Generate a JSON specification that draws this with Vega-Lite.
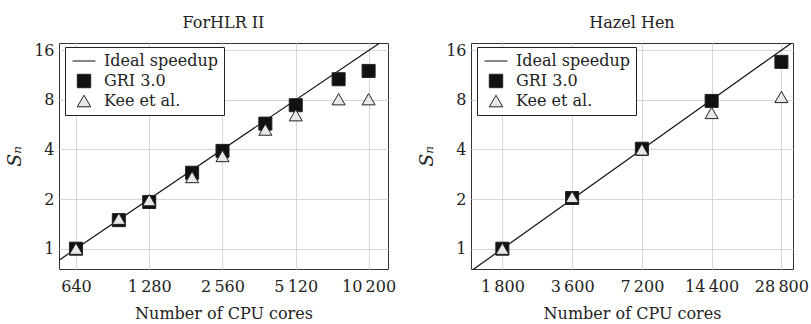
{
  "$schema": "https://vega.github.io/schema/vega-lite/v6.json",
  "padding": {"left": 5, "top": 14, "right": 5, "bottom": 5},
  "spacing": 20,
  "align": "none",
  "datasets": {
    "forhlr": [
      {"series": "GRI 3.0", "cores": 640, "speedup": 1.0},
      {"series": "GRI 3.0", "cores": 960, "speedup": 1.49},
      {"series": "GRI 3.0", "cores": 1280, "speedup": 1.92},
      {"series": "GRI 3.0", "cores": 1920, "speedup": 2.89},
      {"series": "GRI 3.0", "cores": 2560, "speedup": 3.92},
      {"series": "GRI 3.0", "cores": 3840, "speedup": 5.74},
      {"series": "GRI 3.0", "cores": 5120, "speedup": 7.42},
      {"series": "GRI 3.0", "cores": 7680, "speedup": 10.67},
      {"series": "GRI 3.0", "cores": 10200, "speedup": 11.98},
      {"series": "Kee et al.", "cores": 640, "speedup": 1.0},
      {"series": "Kee et al.", "cores": 960, "speedup": 1.52},
      {"series": "Kee et al.", "cores": 1280, "speedup": 1.97},
      {"series": "Kee et al.", "cores": 1920, "speedup": 2.72},
      {"series": "Kee et al.", "cores": 2560, "speedup": 3.65},
      {"series": "Kee et al.", "cores": 3840, "speedup": 5.28},
      {"series": "Kee et al.", "cores": 5120, "speedup": 6.45},
      {"series": "Kee et al.", "cores": 7680, "speedup": 8.07},
      {"series": "Kee et al.", "cores": 10200, "speedup": 8.07}
    ],
    "forhlrIdeal": [
      {"cores": 320, "speedup": 0.5},
      {"cores": 20480, "speedup": 32}
    ],
    "hazel": [
      {"series": "GRI 3.0", "cores": 1800, "speedup": 1.0},
      {"series": "GRI 3.0", "cores": 3600, "speedup": 2.03},
      {"series": "GRI 3.0", "cores": 7200, "speedup": 4.04},
      {"series": "GRI 3.0", "cores": 14400, "speedup": 7.88},
      {"series": "GRI 3.0", "cores": 28800, "speedup": 13.6},
      {"series": "Kee et al.", "cores": 1800, "speedup": 1.0},
      {"series": "Kee et al.", "cores": 3600, "speedup": 2.06},
      {"series": "Kee et al.", "cores": 7200, "speedup": 4.0},
      {"series": "Kee et al.", "cores": 14400, "speedup": 6.66},
      {"series": "Kee et al.", "cores": 28800, "speedup": 8.33}
    ],
    "hazelIdeal": [
      {"cores": 900, "speedup": 0.5},
      {"cores": 57600, "speedup": 32}
    ]
  },
  "config": {
    "font": "DejaVu Serif",
    "view": {"stroke": "#333", "strokeWidth": 1},
    "axis": {
      "grid": true, "gridColor": "#d6d6d6", "gridWidth": 1,
      "domain": false, "ticks": false,
      "labelFont": "DejaVu Serif", "labelFontSize": 16, "labelColor": "#222",
      "titleFont": "DejaVu Serif", "titleFontSize": 16, "titleFontWeight": "normal", "titleColor": "#222"
    },
    "title": {"font": "DejaVu Serif", "fontSize": 16, "fontWeight": "normal", "color": "#222", "offset": 11},
    "legend": {
      "orient": "none", "legendX": 6, "legendY": 4,
      "padding": 6, "strokeColor": "#222", "fillColor": "white", "cornerRadius": 0,
      "labelFont": "DejaVu Serif", "labelFontSize": 16, "labelColor": "#222",
      "symbolSize": 180, "symbolStrokeWidth": 1, "symbolOffset": 5,
      "rowPadding": 3, "labelOffset": 12
    }
  },
  "hconcat": [
    {
      "title": "ForHLR II",
      "width": 329, "height": 226,
      "layer": [
        {
          "data": {"name": "forhlrIdeal"},
          "mark": {"type": "line", "color": "#111", "strokeWidth": 1.2, "clip": true},
          "encoding": {
            "x": {"field": "cores", "type": "quantitative", "scale": {"type": "log", "base": 2, "domain": [545, 12255], "nice": false},
              "axis": {"values": [640, 1280, 2560, 5120, 10200], "labelExpr": "replace(format(datum.value, ','), /,/g, '\u2009')", "labelPadding": 9, "titlePadding": 11, "title": "Number of CPU cores"}},
            "y": {"field": "speedup", "type": "quantitative", "scale": {"type": "log", "base": 2, "domain": [0.753, 17.7], "nice": false},
              "axis": {"values": [1, 2, 4, 8, 16], "format": "d", "labelPadding": 5, "title": "Sₙ", "titleFontStyle": "italic", "titleFontSize": 19, "titlePadding": 9}}
          }
        },
        {
          "data": {"name": "forhlr"},
          "mark": {"type": "point", "filled": true, "size": 170, "strokeWidth": 1, "opacity": 1},
          "encoding": {
            "x": {"field": "cores", "type": "quantitative"},
            "y": {"field": "speedup", "type": "quantitative"},
            "shape": {"field": "series", "type": "nominal", "scale": {"domain": ["Ideal speedup", "GRI 3.0", "Kee et al."], "range": ["M-1.7,0H1.7", "square", "triangle-up"]}, "legend": {"title": null}},
            "fill": {"field": "series", "type": "nominal", "scale": {"domain": ["Ideal speedup", "GRI 3.0", "Kee et al."], "range": ["transparent", "#111111", "#e8e8e8"]}, "legend": {"title": null}},
            "stroke": {"field": "series", "type": "nominal", "scale": {"domain": ["Ideal speedup", "GRI 3.0", "Kee et al."], "range": ["#111111", "#222222", "#222222"]}, "legend": {"title": null}}
          }
        }
      ]
    },
    {
      "title": "Hazel Hen",
      "width": 322, "height": 226,
      "layer": [
        {
          "data": {"name": "hazelIdeal"},
          "mark": {"type": "line", "color": "#111", "strokeWidth": 1.2, "clip": true},
          "encoding": {
            "x": {"field": "cores", "type": "quantitative", "scale": {"type": "log", "base": 2, "domain": [1318, 32320], "nice": false},
              "axis": {"values": [1800, 3600, 7200, 14400, 28800], "labelExpr": "replace(format(datum.value, ','), /,/g, '\u2009')", "labelPadding": 9, "titlePadding": 11, "title": "Number of CPU cores"}},
            "y": {"field": "speedup", "type": "quantitative", "scale": {"type": "log", "base": 2, "domain": [0.753, 17.7], "nice": false},
              "axis": {"values": [1, 2, 4, 8, 16], "format": "d", "labelPadding": 5, "title": "Sₙ", "titleFontStyle": "italic", "titleFontSize": 19, "titlePadding": 9}}
          }
        },
        {
          "data": {"name": "hazel"},
          "mark": {"type": "point", "filled": true, "size": 170, "strokeWidth": 1, "opacity": 1},
          "encoding": {
            "x": {"field": "cores", "type": "quantitative"},
            "y": {"field": "speedup", "type": "quantitative"},
            "shape": {"field": "series", "type": "nominal", "scale": {"domain": ["Ideal speedup", "GRI 3.0", "Kee et al."], "range": ["M-1.7,0H1.7", "square", "triangle-up"]}, "legend": {"title": null}},
            "fill": {"field": "series", "type": "nominal", "scale": {"domain": ["Ideal speedup", "GRI 3.0", "Kee et al."], "range": ["transparent", "#111111", "#e8e8e8"]}, "legend": {"title": null}},
            "stroke": {"field": "series", "type": "nominal", "scale": {"domain": ["Ideal speedup", "GRI 3.0", "Kee et al."], "range": ["#111111", "#222222", "#222222"]}, "legend": {"title": null}}
          }
        }
      ]
    }
  ],
  "resolve": {"scale": {"x": "independent", "y": "independent", "shape": "independent", "fill": "independent", "stroke": "independent"}, "legend": {"shape": "independent", "fill": "independent", "stroke": "independent"}}
}
